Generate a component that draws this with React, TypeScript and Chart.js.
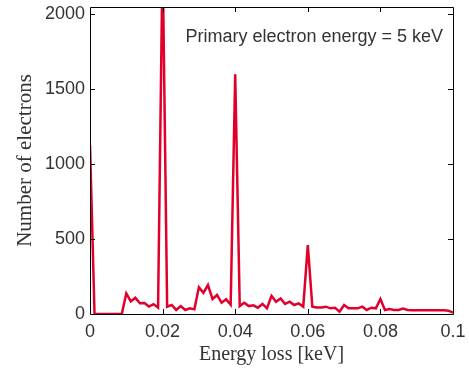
import { useEffect, useRef } from "react";
import { Chart, registerables } from "chart.js";

Chart.register(...registerables);

const energyLoss = [
  0, 0.00125, 0.0025, 0.00375, 0.005, 0.00625, 0.0075, 0.00875, 0.01, 0.01125,
  0.0125, 0.01375, 0.015, 0.01625, 0.0175, 0.01875, 0.02, 0.02125, 0.0225, 0.02375,
  0.025, 0.02625, 0.0275, 0.02875, 0.03, 0.03125, 0.0325, 0.03375, 0.035, 0.03625,
  0.0375, 0.03875, 0.04, 0.04125, 0.0425, 0.04375, 0.045, 0.04625, 0.0475, 0.04875,
  0.05, 0.05125, 0.0525, 0.05375, 0.055, 0.05625, 0.0575, 0.05875, 0.06, 0.06125,
  0.0625, 0.06375, 0.065, 0.06625, 0.0675, 0.06875, 0.07, 0.07125, 0.0725, 0.07375,
  0.075, 0.07625, 0.0775, 0.07875, 0.08, 0.08125, 0.0825, 0.08375, 0.085, 0.08625,
  0.0875, 0.08875, 0.09, 0.09125, 0.0925, 0.09375, 0.095, 0.09625, 0.0975, 0.09875,
  0.1,
];

const electronCounts = [
  1130, 0, 0, 0, 0, 0, 0, 0, 138, 85,
  108, 72, 74, 50, 66, 42, 2400, 49, 60, 27,
  53, 27, 38, 31, 178, 142, 193, 100, 127, 75,
  98, 62, 1600, 53, 75, 53, 58, 42, 67, 38,
  122, 82, 104, 67, 82, 60, 71, 49, 460, 49,
  44, 44, 49, 38, 42, 16, 60, 38, 38, 38,
  49, 27, 42, 38, 100, 27, 33, 27, 27, 36,
  27, 25, 25, 25, 25, 25, 25, 25, 25, 22,
  10,
];

const xTicks = [0, 0.02, 0.04, 0.06, 0.08, 0.1];
const yTicks = [0, 500, 1000, 1500, 2000];
const xTitle = "Energy loss [keV]";
const yTitle = "Number of electrons";
const annotationText = "Primary electron energy = 5 keV";

const sans = "'Liberation Sans', Arial, sans-serif";
const serif = "'Liberation Serif', 'Times New Roman', serif";
const labelColor = "#333333";

export default function App() {
  const ref = useRef<HTMLCanvasElement>(null);

  useEffect(() => {
    if (!ref.current) return;

    const framePlugin = {
      id: "frameTicks",
      afterDraw(chart: any) {
        const { ctx, chartArea, scales } = chart;
        const { left, right, top, bottom } = chartArea;
        ctx.save();
        ctx.strokeStyle = "#000";
        ctx.lineWidth = 1;
        ctx.beginPath();
        ctx.rect(Math.round(left) + 0.5, Math.round(top) + 0.5, Math.round(right - left), Math.round(bottom - top));
        ctx.stroke();
        const tl = 5;
        ctx.beginPath();
        xTicks.forEach((v) => {
          if (v === xTicks[0] || v === xTicks[xTicks.length - 1]) return;
          const px = Math.round(scales.x.getPixelForValue(v)) + 0.5;
          ctx.moveTo(px, bottom);
          ctx.lineTo(px, bottom - tl);
          ctx.moveTo(px, top);
          ctx.lineTo(px, top + tl);
        });
        yTicks.forEach((v) => {
          if (v === 0) return;
          const py = Math.round(scales.y.getPixelForValue(v)) + 0.5;
          ctx.moveTo(left, py);
          ctx.lineTo(left + tl, py);
          ctx.moveTo(right, py);
          ctx.lineTo(right - tl, py);
        });
        ctx.stroke();
        ctx.fillStyle = labelColor;
        ctx.font = `18px ${sans}`;
        ctx.textAlign = "right";
        ctx.textBaseline = "alphabetic";
        ctx.fillText(annotationText, right - 10, top + 35);
        ctx.restore();
      },
    };

    const chart = new Chart(ref.current, {
      type: "line",
      data: {
        datasets: [
          {
            data: energyLoss.map((x, i) => ({ x, y: electronCounts[i] })),
            borderColor: "#e1002b",
            borderWidth: 2.5,
            pointRadius: 0,
            tension: 0,
            fill: false,
          },
        ],
      },
      options: {
        animation: false,
        responsive: false,
        layout: { padding: { top: 7, right: 16, left: 0, bottom: 0 } },
        plugins: { legend: { display: false }, tooltip: { enabled: false } },
        scales: {
          x: {
            type: "linear",
            min: 0,
            max: 0.1,
            afterBuildTicks: (s: any) => {
              s.ticks = xTicks.map((value) => ({ value }));
            },
            afterFit: (s: any) => {
              s.height = 55;
              s.paddingLeft = 0;
              s.paddingRight = 0;
            },
            ticks: {
              autoSkip: false,
              maxRotation: 0,
              padding: 7,
              color: labelColor,
              font: { family: sans, size: 18 },
              callback: (v: any) => String(Number(Number(v).toFixed(3))),
            },
            grid: { display: false, drawTicks: false },
            border: { display: false },
            title: {
              display: true,
              text: xTitle,
              color: labelColor,
              font: { family: serif, size: 20 },
              padding: { top: 0, bottom: 2 },
            },
          },
          y: {
            type: "linear",
            min: 0,
            max: 2050,
            afterBuildTicks: (s: any) => {
              s.ticks = yTicks.map((value) => ({ value }));
            },
            afterFit: (s: any) => {
              s.width = 90;
              s.paddingTop = 0;
              s.paddingBottom = 0;
            },
            ticks: {
              padding: 5,
              color: labelColor,
              font: { family: sans, size: 18 },
              callback: (v: any) => String(v),
            },
            grid: { display: false, drawTicks: false },
            border: { display: false },
            title: {
              display: true,
              text: yTitle,
              color: labelColor,
              font: { family: serif, size: 21 },
              padding: { top: 13, bottom: 0 },
            },
          },
        },
      },
      plugins: [framePlugin],
    });

    return () => chart.destroy();
  }, []);

  return (
    <div style={{ position: "fixed", left: 0, top: 0, width: 469, height: 369, background: "#fff" }}>
      <canvas ref={ref} width={469} height={369} style={{ display: "block", width: 469, height: 369 }} />
    </div>
  );
}
